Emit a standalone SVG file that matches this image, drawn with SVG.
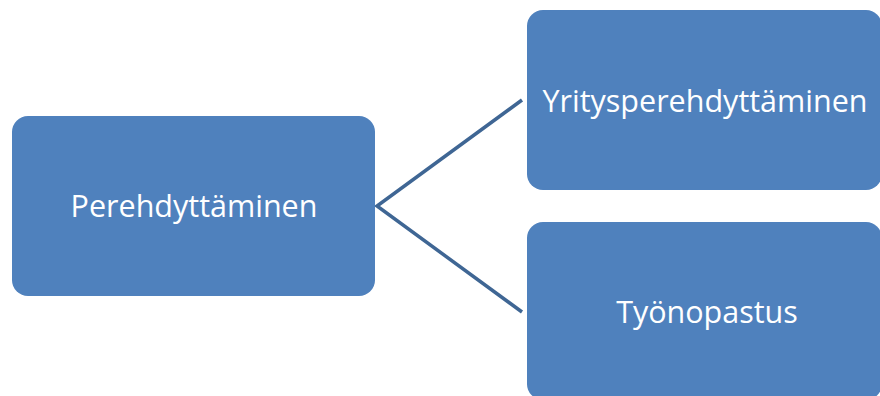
<svg xmlns="http://www.w3.org/2000/svg" width="880" height="396" viewBox="0 0 880 396">
<style>
.n{fill:#4f81bd}
.t{fill:#fff;font-family:"Open Sans","Liberation Sans",sans-serif;font-size:30.5px;text-anchor:middle;dominant-baseline:central}
.c{stroke:#3f6694;stroke-width:3.5;fill:none;stroke-linejoin:miter}
</style>
<rect width="880" height="396" fill="#fff"/>
<g id="connectors">
<polyline class="c" points="522,100 377,206 522,312"/>
</g>
<g id="n1">
<rect class="n" x="12" y="116" width="363" height="180" rx="16"/>
<text class="t" x="194" y="205">Perehdyttäminen</text>
</g>
<g id="n2">
<rect class="n" x="527" y="10" width="355" height="180" rx="16"/>
<text class="t" x="705" y="100">Yritysperehdyttäminen</text>
</g>
<g id="n3">
<rect class="n" x="527" y="222" width="355" height="178" rx="16"/>
<text class="t" x="707" y="311">Työnopastus</text>
</g>
</svg>
